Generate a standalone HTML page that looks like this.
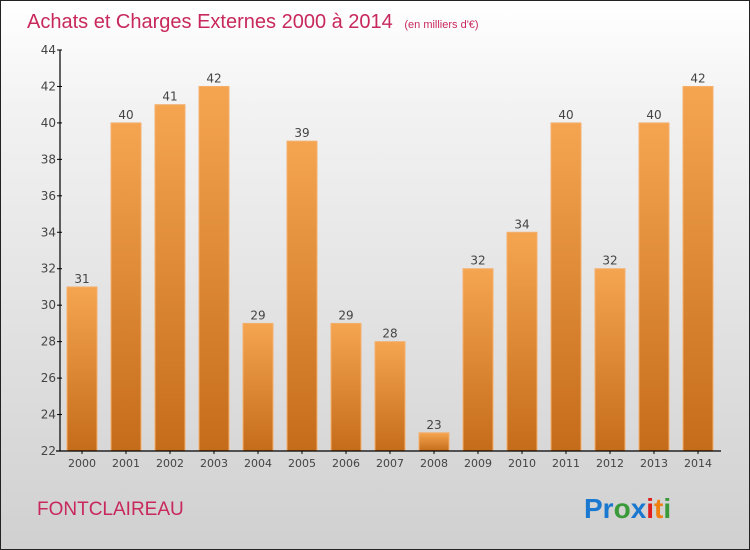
<!DOCTYPE html>
<html><head><meta charset="utf-8"><style>
body{margin:0;}
#wrap{position:relative;width:748px;height:548px;border:1px solid #222;background:linear-gradient(#ffffff,#f2f2f2 20%,#d0d0d0);font-family:"DejaVu Sans","Liberation Sans",sans-serif;overflow:hidden}
svg{position:absolute;left:0;top:0}
</style></head><body>
<div id="wrap">
<svg id="chart" width="748" height="548">
<defs>
<linearGradient id="bg" x1="0" y1="0" x2="0" y2="1"><stop offset="0" stop-color="#f5a550"/><stop offset="1" stop-color="#c56c1a"/></linearGradient>
</defs>
<text x="26" y="27" font-size="20" fill="#c8285c" font-family="Liberation Sans, sans-serif">Achats et Charges Externes 2000 à 2014 <tspan font-size="11" dx="6">(en milliers d'€)</tspan></text>
<text x="36" y="514" font-size="19" fill="#c8285c" font-family="Liberation Sans, sans-serif">FONTCLAIREAU</text>
<g font-size="28" font-family="Liberation Sans, sans-serif" font-weight="bold">
<text x="583" y="517"><tspan fill="#1a78d0">Pr</tspan><tspan fill="#3a9a3a">o</tspan><tspan fill="#1a78d0">x</tspan><tspan fill="#e02020">i</tspan><tspan fill="#f08010">t</tspan><tspan fill="#3a9a3a">i</tspan></text>
</g>
<g id="plot"></g>
</svg>
</div>
<script>
const years=["2000","2001","2002","2003","2004","2005","2006","2007","2008","2009","2010","2011","2012","2013","2014"];
const values=[31,40,41,42,29,39,29,28,23,32,34,40,32,40,42];
const yTicks=[22,24,26,28,30,32,34,36,38,40,42,44];
const x0=59,slot=44,yMin=22,yMax=44,yTop=49,yBot=450;
const ys=v=>yBot-(v-yMin)/(yMax-yMin)*(yBot-yTop);
const xs=i=>x0+slot*i+slot/2;
const g=document.getElementById('plot');
const NS="http://www.w3.org/2000/svg";
function mk(t,a){const e=document.createElementNS(NS,t);for(const k in a)e.setAttribute(k,a[k]);g.appendChild(e);return e;}
values.forEach((v,i)=>{
 const b=mk('rect',{x:xs(i)-15,y:ys(v),width:30,height:yBot-ys(v),fill:'url(#bg)',stroke:'#f3b070','stroke-width':1});
 
 
 const t=mk('text',{x:xs(i),y:ys(v)-4,'text-anchor':'middle','font-size':12,fill:'#444'});
 t.textContent=v;
 
 
 const l=mk('text',{x:xs(i),y:yBot+16,'text-anchor':'middle','font-size':11,fill:'#444'});
 l.textContent=years[i];
 
 
 mk('line',{x1:xs(i),x2:xs(i),y1:yBot,y2:yBot+3,stroke:'#000'});
});
yTicks.forEach(v=>{
 mk('line',{x1:x0-3,x2:x0+2,y1:ys(v),y2:ys(v),stroke:'#000'});
 const t=mk('text',{x:x0-4,y:ys(v)+4,'text-anchor':'end','font-size':12,fill:'#444'});
 t.textContent=v;
 
 
});
const ya=mk('line',{x1:x0,x2:x0,y1:yTop,y2:yBot,stroke:'#000','stroke-width':1.2});


const xa=mk('line',{x1:x0-4,x2:x0+slot*years.length+1,y1:yBot,y2:yBot,stroke:'#000','stroke-width':1.2});


</script>
</body></html>
